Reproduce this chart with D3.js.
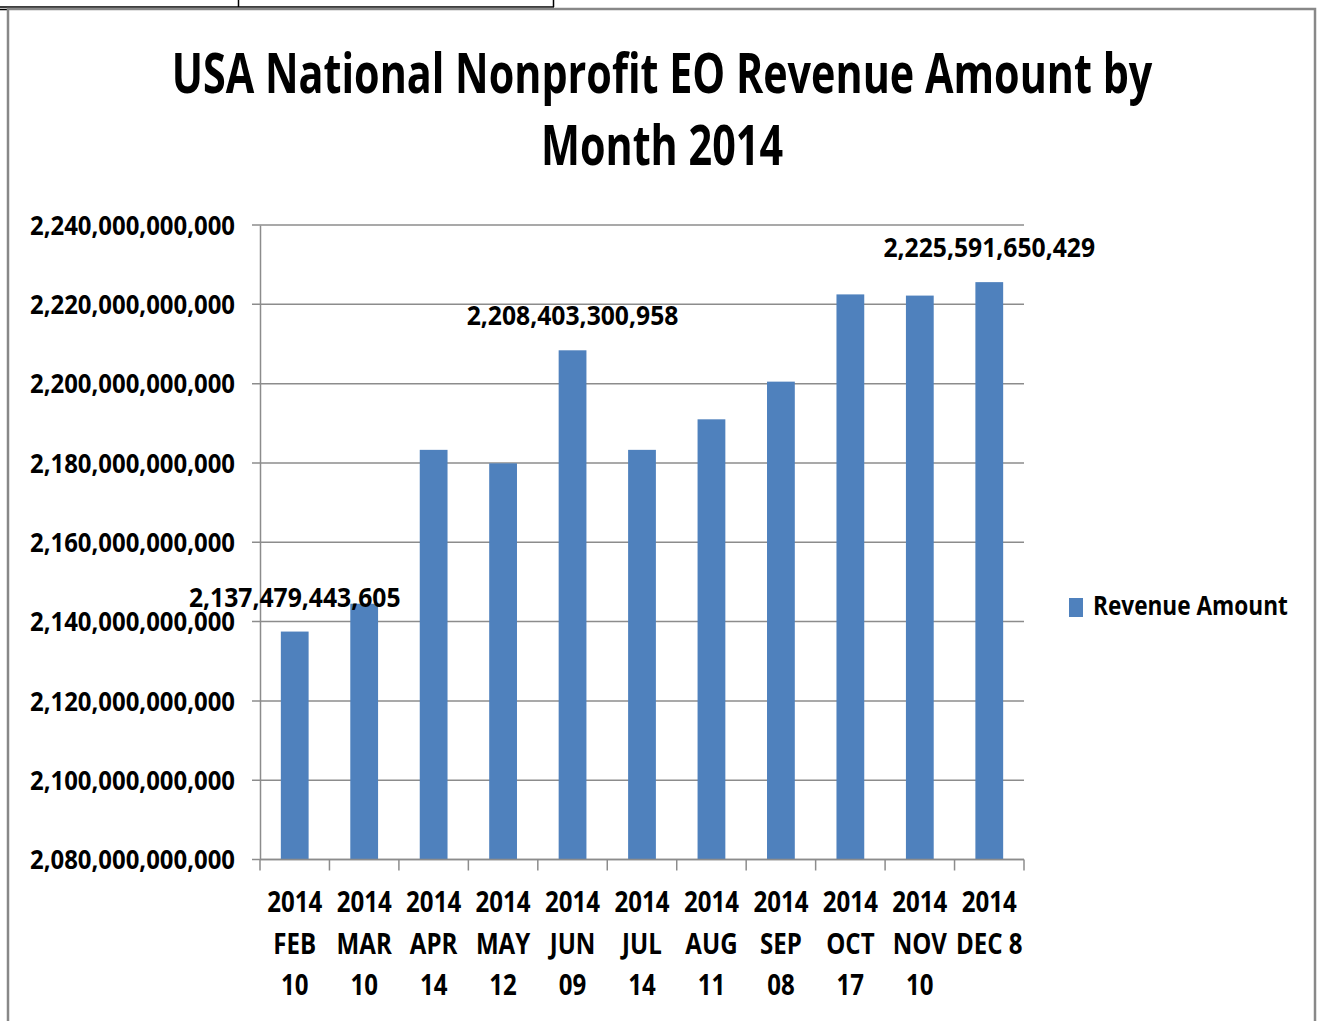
<!DOCTYPE html>
<html>
<head>
<meta charset="utf-8">
<script src="https://cdn.jsdelivr.net/npm/d3@7"></script>
<style>
  body { margin: 0; background: #fff; }
  text { font-family: "Open Sans", "Noto Sans", sans-serif; font-weight: bold; fill: #000; }
</style>
</head>
<body>
<svg id="chart" width="1318" height="1021"></svg>
<script>
// data
const months = ["2014 FEB 10", "2014 MAR 10", "2014 APR 14", "2014 MAY 12", "2014 JUN 09",
  "2014 JUL 14", "2014 AUG 11", "2014 SEP 08", "2014 OCT 17", "2014 NOV 10", "2014 DEC 8"];
const monthLines = [["2014", "FEB", "10"], ["2014", "MAR", "10"], ["2014", "APR", "14"], ["2014", "MAY", "12"],
  ["2014", "JUN", "09"], ["2014", "JUL", "14"], ["2014", "AUG", "11"], ["2014", "SEP", "08"],
  ["2014", "OCT", "17"], ["2014", "NOV", "10"], ["2014", "DEC 8"]];
const revenue = [2137479443605, 2144500000000, 2183300000000, 2179900000000, 2208403300958,
  2183300000000, 2191000000000, 2200500000000, 2222500000000, 2222200000000, 2225591650429];
const labelled = ["2014 FEB 10", "2014 JUN 09", "2014 DEC 8"];
const yTicks = [2080e9, 2100e9, 2120e9, 2140e9, 2160e9, 2180e9, 2200e9, 2220e9, 2240e9];
const seriesName = "Revenue Amount";
const titleLines = ["USA National Nonprofit EO Revenue Amount by", "Month 2014"];

const svg = d3.select("#chart");
const blue = "#4f81bd", grid = "#8c8c8c";
const plotLeft = 260, plotRight = 1024, plotTop = 225, plotBottom = 859.5;
const fmt = d3.format(",.0f");

// spreadsheet cell borders peeking above the chart
svg.append("path")
  .attr("d", "M0,7H554M238.5,0V7M553.5,0V7M0,9.5H8")
  .attr("stroke", "#000").attr("stroke-width", 1.5).attr("fill", "none");

// chart frame
svg.append("rect")
  .attr("x", 8).attr("y", 9).attr("width", 1307).attr("height", 1030)
  .attr("fill", "#fff").attr("stroke", "#888").attr("stroke-width", 2.5);

// squeeze text horizontally, like the narrow source font
function squeeze(sel, sx) {
  sel.each(function () {
    const t = d3.select(this);
    const x = +t.attr("x") || 0, y = +t.attr("y") || 0;
    t.attr("x", null).attr("y", null)
      .attr("transform", `translate(${x},${y}) scale(${sx},1)`);
  });
}

const title = svg.append("g");
title.selectAll("text").data(titleLines).enter().append("text")
  .attr("x", 662).attr("y", (d, i) => 93 + i * 72)
  .attr("text-anchor", "middle")
  .style("font-size", "56px")
  .text(d => d)
  .call(squeeze, 0.738);

const x = d3.scaleBand().domain(months).range([plotLeft, plotRight]).paddingInner(0.6).paddingOuter(0.3);
const y = d3.scaleLinear().domain([2080e9, 2240e9]).range([plotBottom, plotTop]);

// gridlines
svg.append("g")
  .selectAll("line").data(yTicks).enter().append("line")
  .attr("x1", plotLeft - 8).attr("x2", plotRight)
  .attr("y1", d => y(d)).attr("y2", d => y(d))
  .attr("stroke", grid).attr("stroke-width", 1.5);

// y axis
const yAxis = svg.append("g")
  .attr("transform", `translate(${plotLeft},0)`)
  .call(d3.axisLeft(y).tickValues(yTicks).tickSize(0).tickFormat(""));
yAxis.select(".domain").attr("stroke", grid).attr("stroke-width", 1.5);
yAxis.selectAll(".tick").append("text")
  .attr("x", -25).attr("y", 0)
  .attr("dy", "0.36em")
  .attr("text-anchor", "end")
  .style("font-size", "26px")
  .text(d => fmt(d))
  .call(squeeze, 0.92);

// bars
svg.append("g")
  .selectAll("rect").data(revenue).enter().append("rect")
  .attr("x", (d, i) => x(months[i]))
  .attr("y", d => y(d))
  .attr("width", x.bandwidth())
  .attr("height", d => y(2080e9) - y(d))
  .attr("fill", blue);

// x axis with ticks between categories
const step = x.step(), gap = step - x.bandwidth();
const edges = months.map(m => x(m) - gap / 2).concat([plotRight]);
svg.append("line")
  .attr("x1", plotLeft).attr("x2", plotRight).attr("y1", plotBottom).attr("y2", plotBottom)
  .attr("stroke", grid).attr("stroke-width", 1.5);
svg.append("g").selectAll("line").data(edges).enter().append("line")
  .attr("x1", d => d).attr("x2", d => d)
  .attr("y1", plotBottom).attr("y2", plotBottom + 11)
  .attr("stroke", grid).attr("stroke-width", 1.5);

const xLab = svg.append("g").selectAll("g").data(months).enter().append("g");
xLab.selectAll("text").data((m, i) => monthLines[i].map(l => ({ m, l }))).enter().append("text")
  .attr("x", d => x(d.m) + x.bandwidth() / 2)
  .attr("y", (d, j) => 912 + j * 41.5)
  .attr("text-anchor", "middle")
  .style("font-size", "28px")
  .text(d => d.l)
  .call(squeeze, 0.86);

// data labels
svg.append("g").selectAll("text")
  .data(months.map((m, i) => ({ m, v: revenue[i] })).filter(d => labelled.includes(d.m)))
  .enter().append("text")
  .attr("x", d => x(d.m) + x.bandwidth() / 2)
  .attr("y", d => y(d.v) - 25)
  .attr("text-anchor", "middle")
  .style("font-size", "27px")
  .text(d => fmt(d.v))
  .call(squeeze, 0.915);

// legend
const legend = svg.append("g");
legend.append("rect").attr("x", 1069).attr("y", 598).attr("width", 14).attr("height", 19).attr("fill", blue);
legend.append("text").attr("x", 1093).attr("y", 615)
  .style("font-size", "26px").text(seriesName)
  .call(squeeze, 0.87);
</script>
</body>
</html>
